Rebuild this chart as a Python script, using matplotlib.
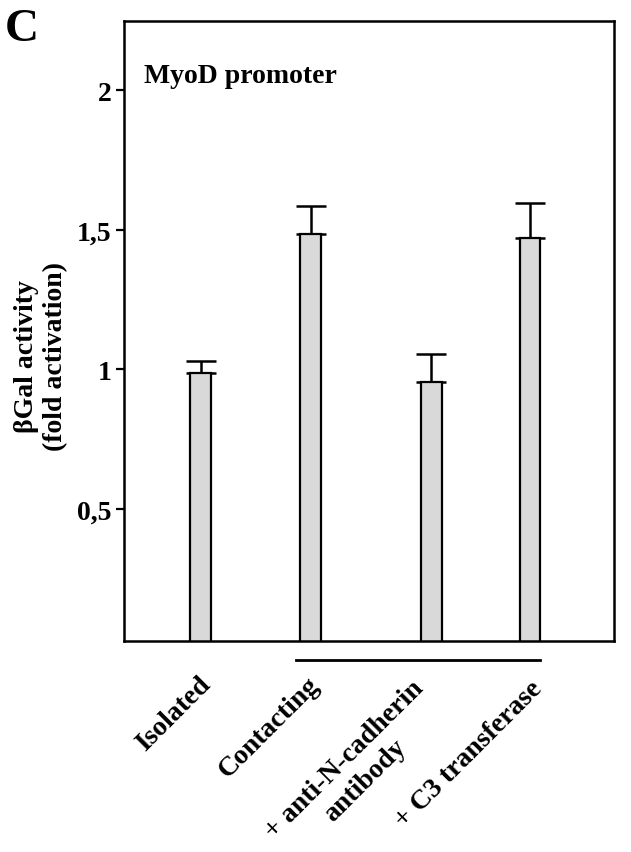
import numpy as np
import matplotlib
matplotlib.use('Agg')
from matplotlib import pyplot as plt
import matplotlib.transforms as mtransforms

# data
categories = ['Isolated', 'Contacting', '+ anti-N-cadherin\nantibody', '+ C3 transferase']
activity = [0.985, 1.485, 0.955, 1.47]
errors = [0.045, 0.10, 0.10, 0.125]
yticks = [0.5, 1.0, 1.5, 2.0]
yticklabels = ['0,5', '1', '1,5', '2']

plt.rcParams['font.family'] = ['Liberation Serif', 'DejaVu Serif']
plt.rcParams['font.weight'] = 'bold'

fig = plt.figure(figsize=(6.31, 8.53), dpi=100)
ax = fig.add_axes([0.1965, 0.2474, 0.9730 - 0.1965, 0.9742 - 0.2474])

pos = np.array([0, 1, 2.1, 3.0])
ax.bar(pos, activity, width=0.19, color='#d9d9d9', edgecolor='black',
       linewidth=1.6, zorder=2)
ax.errorbar(pos, activity, yerr=[np.zeros(len(errors)), errors], fmt='none',
            ecolor='black', elinewidth=1.8, capsize=11, capthick=1.8, zorder=1)

ax.set_xlim(-0.70, 3.766)
ax.set_ylim(0.026, 2.248)
ax.set_yticks(yticks)
ax.set_yticklabels(yticklabels, fontsize=20, fontweight='bold')
ax.set_xticks(pos)
ax.set_xticklabels(categories, fontsize=20, fontweight='bold', rotation=45,
                   ha='right', va='top', rotation_mode='anchor',
                   multialignment='center')
ax.tick_params(axis='x', length=0, pad=22)
ax.tick_params(axis='y', length=6, width=1.6, pad=3)
for s in ax.spines.values():
    s.set_linewidth(1.8)

# nudge the labels a little, mostly the two-line one
lbls = ax.get_xticklabels()
shifts = [(-3, 0), (-4, 0), (-20, -4), (0, -4)]
for lb, (dx, dy) in zip(lbls, shifts):
    lb.set_transform(lb.get_transform() +
                     mtransforms.ScaledTranslation(dx / 100, dy / 100, fig.dpi_scale_trans))

ax.set_ylabel('\u03b2Gal activity\n(fold activation)', fontsize=20,
              fontweight='bold', labelpad=4)
ax.yaxis.set_label_coords(-0.115, 0.46)

ax.text(0.04, 0.932, 'MyoD promoter', transform=ax.transAxes, fontsize=20,
        fontweight='bold', va='top', ha='left')

# line grouping the contacting conditions
trans = mtransforms.blended_transform_factory(ax.transData, ax.transAxes)
ax.plot([pos[1] - 0.13, pos[3] + 0.09], [-0.031, -0.031], color='black',
        linewidth=2, transform=trans, clip_on=False)

fig.text(0.008, 0.99, 'C', fontsize=34, fontweight='bold', va='top', ha='left')

fig.savefig('out.png', dpi=100)
